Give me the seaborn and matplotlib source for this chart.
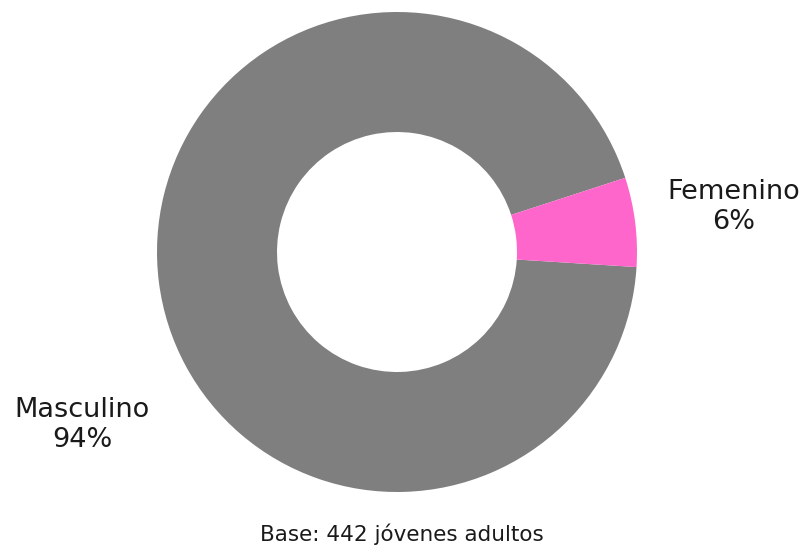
import seaborn as sns
import matplotlib.pyplot as plt

categorias = ['Masculino', 'Femenino']
porcentajes = [94, 6]
colores = ['#7f7f7f', '#ff66cc']
etiquetas = ['Masculino\n94%', 'Femenino\n6%']
nota = 'Base: 442 jóvenes adultos'

sns.set_theme(style='white')
plt.rcParams['font.family'] = ['DejaVu Sans']

fig = plt.figure(figsize=(8.04, 5.47), dpi=100)
ax = fig.add_axes([0, 0, 1, 1])

# donut: centro y radios en pixeles de la figura
ax.pie(porcentajes, colors=colores, startangle=18, counterclock=True,
       center=(397, 295), radius=240,
       wedgeprops=dict(width=120, edgecolor='none'))

ax.text(734, 340, etiquetas[1], ha='center', va='center', fontsize=19.5, color='#1a1a1a', linespacing=1.2)
ax.text(82, 122, etiquetas[0], ha='center', va='center', fontsize=19.5, color='#1a1a1a', linespacing=1.2)
ax.text(402, 13, nota, ha='center', va='center', fontsize=15.5, color='#1a1a1a')

ax.set_xlim(0, 804)
ax.set_ylim(0, 547)
ax.set_aspect('equal')
ax.axis('off')

plt.savefig('out.png', dpi=100)
